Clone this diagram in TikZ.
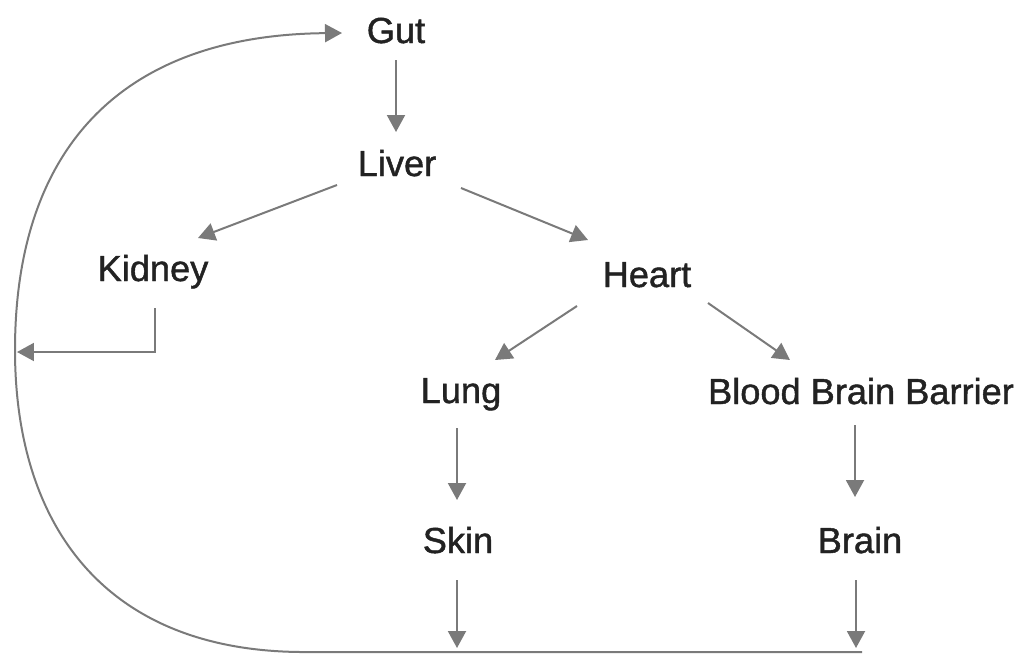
\documentclass[tikz,border=0pt]{standalone}
\usepackage{fontspec}
\setmainfont{Liberation Sans}
\newfontfamily\lblfont[FakeBold=1.2,BoldFont={Liberation Sans}]{Liberation Sans}
\usetikzlibrary{arrows.meta}
\definecolor{linegray}{HTML}{7A7A7A}
\definecolor{textdark}{HTML}{222222}
\begin{document}
\begin{tikzpicture}[x=0.02cm,y=-0.02cm,
  lbl/.style={anchor=base,inner sep=0pt,text=textdark,font=\lblfont\bfseries\fontsize{20.6pt}{24pt}\selectfont},
  arr/.style={draw=linegray,line width=0.04cm,-{Triangle[length=0.34cm,width=0.36cm]},fill=none},
  ln/.style={draw=linegray,line width=0.04cm}]
\useasboundingbox (0,0) rectangle (1024,656);
\node[lbl] (gut) at (396,43) {Gut};
\node[lbl] (liver) at (397,176) {Liver};
\node[lbl] (kidney) at (153,281) {Kidney};
\node[lbl] (heart) at (647,287) {Heart};
\node[lbl] (lung) at (461,403) {Lung};
\node[lbl] (bbb) at (861,404) {Blood Brain Barrier};
\node[lbl] (skin) at (458,553) {Skin};
\node[lbl] (brain) at (860,553) {Brain};
\coordinate (skinend) at (457,648);
\coordinate (brainend) at (856,648);
\coordinate (kidcorner) at (155,352);
\coordinate (kidend) at (17,352);
\coordinate (loopstart) at (862,652);
\coordinate (looplow) at (300,652);
\coordinate (loopleft) at (15,350);
\coordinate (loopend) at (342,33);
\draw[arr] ([shift={(0,17)}]gut.base) -- ([shift={(-1,-44)}]liver.base);
\draw[arr] ([shift={(-60,9)}]liver.base) -- ([shift={(45,-43)}]kidney.base);
\draw[arr] ([shift={(64,12)}]liver.base) -- ([shift={(-59,-47)}]heart.base);
\draw[arr] ([shift={(-70,19)}]heart.base) -- ([shift={(34,-43)}]lung.base);
\draw[arr] ([shift={(61,16)}]heart.base) -- ([shift={(-71,-44)}]bbb.base);
\draw[arr] ([shift={(-4,25)}]lung.base) -- ([shift={(-1,-53)}]skin.base);
\draw[arr] ([shift={(-6,21)}]bbb.base) -- ([shift={(-5,-56)}]brain.base);
\draw[arr] ([shift={(-1,27)}]skin.base) -- (skinend);
\draw[arr] ([shift={(-4,27)}]brain.base) -- (brainend);
\draw[arr] ([shift={(2,27)}]kidney.base) -- (kidcorner) -- (kidend);
\draw[arr] (loopstart) -- (looplow) .. controls (100,650) and (15,520) .. (loopleft) .. controls (15,150) and (120,35) .. (loopend);
\end{tikzpicture}
\end{document}
